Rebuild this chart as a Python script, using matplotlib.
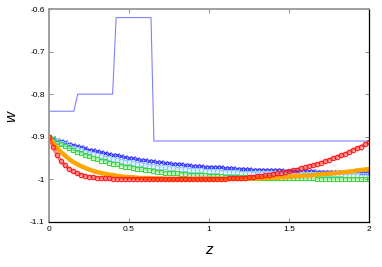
import matplotlib
matplotlib.use('Agg')
import matplotlib.pyplot as plt
import numpy as np

# redshift samples shared by the reconstructed w(z) curves (step 0.025)
z = np.linspace(0, 2, 81)

w_blue = [-0.900, -0.904, -0.907, -0.910, -0.913, -0.916, -0.919, -0.922, -0.925, -0.927,
          -0.930, -0.932, -0.934, -0.936, -0.938, -0.940, -0.942, -0.944, -0.946, -0.948,
          -0.949, -0.951, -0.952, -0.954, -0.955, -0.956, -0.958, -0.959, -0.960, -0.961,
          -0.962, -0.963, -0.964, -0.965, -0.966, -0.967, -0.968, -0.968, -0.969, -0.970,
          -0.971, -0.971, -0.972, -0.972, -0.973, -0.974, -0.974, -0.975, -0.975, -0.976,
          -0.976, -0.977, -0.977, -0.977, -0.978, -0.978, -0.979, -0.979, -0.979, -0.980,
          -0.980, -0.980, -0.980, -0.981, -0.981, -0.981, -0.981, -0.982, -0.982, -0.982,
          -0.982, -0.982, -0.983, -0.983, -0.983, -0.983, -0.983, -0.983, -0.984, -0.984,
          -0.984]
w_sky = [-0.900, -0.905, -0.909, -0.914, -0.918, -0.922, -0.926, -0.929, -0.932, -0.935,
         -0.938, -0.941, -0.944, -0.946, -0.949, -0.951, -0.953, -0.955, -0.957, -0.959,
         -0.960, -0.962, -0.963, -0.965, -0.966, -0.968, -0.969, -0.970, -0.971, -0.972,
         -0.973, -0.974, -0.975, -0.976, -0.976, -0.977, -0.978, -0.978, -0.979, -0.980,
         -0.980, -0.981, -0.981, -0.982, -0.982, -0.983, -0.983, -0.983, -0.984, -0.984,
         -0.984, -0.985, -0.985, -0.985, -0.986, -0.986, -0.986, -0.986, -0.986, -0.987,
         -0.987, -0.987, -0.987, -0.987, -0.987, -0.988, -0.988, -0.988, -0.988, -0.988,
         -0.988, -0.988, -0.988, -0.988, -0.989, -0.989, -0.989, -0.989, -0.989, -0.989,
         -0.989]
w_green = [-0.900, -0.906, -0.912, -0.917, -0.922, -0.927, -0.931, -0.935, -0.939, -0.943,
           -0.946, -0.950, -0.953, -0.956, -0.958, -0.961, -0.963, -0.965, -0.968, -0.970,
           -0.971, -0.973, -0.975, -0.976, -0.978, -0.979, -0.980, -0.982, -0.983, -0.984,
           -0.985, -0.986, -0.986, -0.987, -0.988, -0.989, -0.989, -0.990, -0.991, -0.991,
           -0.992, -0.992, -0.993, -0.993, -0.994, -0.994, -0.994, -0.995, -0.995, -0.995,
           -0.996, -0.996, -0.996, -0.996, -0.997, -0.997, -0.997, -0.997, -0.997, -0.998,
           -0.998, -0.998, -0.998, -0.998, -0.998, -0.998, -0.998, -0.999, -0.999, -0.999,
           -0.999, -0.999, -0.999, -0.999, -0.999, -0.999, -0.999, -0.999, -0.999, -0.999,
           -0.999]
w_orange = [-0.900, -0.914, -0.925, -0.936, -0.944, -0.952, -0.959, -0.964, -0.969, -0.973,
            -0.977, -0.980, -0.983, -0.985, -0.987, -0.989, -0.990, -0.992, -0.993, -0.994,
            -0.995, -0.995, -0.996, -0.997, -0.997, -0.997, -0.998, -0.998, -0.998, -0.999,
            -0.999, -0.999, -0.999, -0.999, -0.999, -0.999, -0.999, -0.999, -0.999, -0.999,
            -0.999, -0.999, -0.999, -0.999, -0.999, -0.999, -0.999, -0.999, -0.999, -0.999,
            -0.998, -0.998, -0.998, -0.997, -0.997, -0.997, -0.996, -0.996, -0.995, -0.995,
            -0.994, -0.993, -0.993, -0.992, -0.991, -0.991, -0.990, -0.989, -0.988, -0.987,
            -0.987, -0.986, -0.985, -0.984, -0.983, -0.982, -0.981, -0.979, -0.978, -0.977,
            -0.976]
w_red = [-0.900, -0.924, -0.943, -0.957, -0.967, -0.975, -0.981, -0.986, -0.989, -0.992,
         -0.994, -0.995, -0.996, -0.997, -0.998, -0.998, -0.999, -0.999, -0.999, -0.999,
         -0.999, -0.999, -0.999, -0.999, -1.000, -1.000, -1.000, -1.000, -1.000, -1.000,
         -1.000, -1.000, -1.000, -1.000, -1.000, -1.000, -1.000, -1.000, -1.000, -1.000,
         -1.000, -1.000, -0.999, -0.999, -0.999, -0.998, -0.998, -0.997, -0.997, -0.996,
         -0.995, -0.994, -0.993, -0.992, -0.991, -0.989, -0.988, -0.986, -0.985, -0.983,
         -0.981, -0.979, -0.977, -0.974, -0.972, -0.969, -0.967, -0.964, -0.961, -0.958,
         -0.954, -0.951, -0.947, -0.944, -0.940, -0.936, -0.931, -0.927, -0.923, -0.918,
         -0.913]

# binned (piecewise) w(z)
z_step = [0.0, 0.156, 0.18, 0.398, 0.42, 0.638, 0.656, 2.0]
w_step = [-0.84, -0.84, -0.80, -0.80, -0.62, -0.62, -0.91, -0.91]

x_ticks = [0, 0.5, 1, 1.5, 2]
x_labels = ['0', '0.5', '1', '1.5', '2']
y_ticks = [-1.1, -1.0, -0.9, -0.8, -0.7, -0.6]
y_labels = ['-1.1', '-1', '-0.9', '-0.8', '-0.7', '-0.6']

plt.rcParams['font.family'] = ['Liberation Sans', 'DejaVu Sans']

fig = plt.figure(figsize=(3.82, 2.67), dpi=100)
ax = fig.add_axes([0.128, 0.169, 0.838, 0.797])

ax.plot(z_step, w_step, '-', color='#8080ff', lw=0.8)

# point series: faint band underneath so the dense points read as a strip
series = [
    (w_blue, 'x', '#2a2aff', 2.8),
    (w_sky, 's', '#87cefa', 2.6),
    (w_green, 's', '#33dd33', 2.8),
]
for w, mk, col, ms in series:
    ax.plot(z, w, '-', color=col, lw=1.6, alpha=0.35)
    ax.plot(z, w, mk, color=col, ms=ms, mew=0.8, mfc='none')

ax.plot(z, w_orange, '-', color='#ffa500', lw=3.2)
ax.plot(z, w_red, '-', color='#ff2020', lw=2.4, alpha=0.55)
ax.plot(z, w_red, 'o', color='#ff1a1a', ms=3.2, mew=0.8, mfc='none')

ax.set_xlim(0, 2)
ax.set_ylim(-1.1, -0.6)
ax.set_xticks(x_ticks)
ax.set_xticklabels(x_labels)
ax.set_yticks(y_ticks)
ax.set_yticklabels(y_labels)
ax.tick_params(direction='in', length=3, width=0.6, color='#777777',
               labelsize=6, top=True, right=True, pad=3)

for side in ['left', 'top']:
    ax.spines[side].set_color('#999999')
    ax.spines[side].set_linewidth(1.3)
for side in ['right', 'bottom']:
    ax.spines[side].set_color('black')
    ax.spines[side].set_linewidth(0.9)

fig.text(0.029, 0.565, 'w', fontsize=11, style='italic', rotation=90,
         ha='center', va='center')
fig.text(0.547, 0.064, 'z', fontsize=11, style='italic', ha='center', va='center')

fig.savefig('out.png', dpi=100)
